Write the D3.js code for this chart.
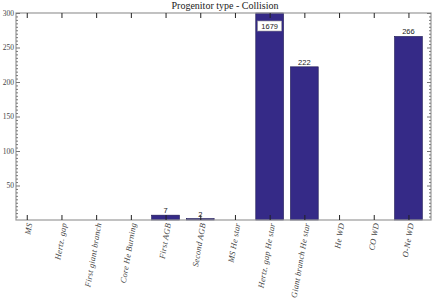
<!DOCTYPE html>
<html><head><meta charset="utf-8">
<script src="https://cdn.jsdelivr.net/npm/d3@7"></script>
<style>body{margin:0;background:#fff}svg{display:block}</style>
</head><body>
<script>
const categories = ["MS","Hertz. gap","First giant branch","Core He Burning","First AGB","Second AGB","MS He star","Hertz. gap He star","Giant branch He star","He WD","CO WD","O-Ne WD"];
const counts = [0,0,0,0,7,2,0,1679,222,0,0,266];
const yTicks = [50,100,150,200,250,300];
const title = "Progenitor type - Collision";

const W=436,H=300, L=16, R=431, T=13, B=220;
const svg=d3.select("body").append("svg").attr("width",W).attr("height",H);
const x=d3.scaleLinear().domain([-0.31,11.65]).range([L,R]);
const y=d3.scaleLinear().domain([0,300]).range([B,T]);
const bw = x(0.8)-x(0);
const serif="'Liberation Serif','DejaVu Serif',serif";
const sans="'Liberation Sans','DejaVu Sans',sans-serif";

// bars
svg.selectAll("rect.bar").data(counts.map((v,i)=>({v,i}))).enter().filter(d=>d.v>0)
 .append("rect").attr("class","bar")
 .attr("x",d=>x(d.i)-bw/2).attr("width",bw)
 .attr("y",d=>y(Math.min(d.v,300))).attr("height",d=>B-y(Math.min(d.v,300)))
 .attr("fill","#352a87").attr("stroke","#1a1450").attr("stroke-width",0.6);

// frame
svg.append("rect").attr("x",L).attr("y",T).attr("width",R-L).attr("height",B-T)
 .attr("fill","none").attr("stroke","#999").attr("stroke-width",1.2);

// axes
const minor=d3.range(5,300,5).filter(v=>v%50!==0);
const gl=svg.append("g").attr("transform",`translate(${L},0)`)
 .call(d3.axisLeft(y).tickValues(yTicks).tickSize(-4).tickPadding(2));
gl.select(".domain").remove();
gl.selectAll("text").attr("font-family",serif).attr("font-size",7.5).attr("fill","#444");
gl.selectAll("line").attr("stroke","#777");
const gl2=svg.append("g").attr("transform",`translate(${L},0)`)
 .call(d3.axisLeft(y).tickValues(minor).tickSize(-2).tickFormat(""));
gl2.select(".domain").remove(); gl2.selectAll("line").attr("stroke","#777");
const gr=svg.append("g").attr("transform",`translate(${R},0)`)
 .call(d3.axisRight(y).tickValues(yTicks).tickSize(-4).tickFormat(""));
gr.select(".domain").remove(); gr.selectAll("line").attr("stroke","#777");
const gr2=svg.append("g").attr("transform",`translate(${R},0)`)
 .call(d3.axisRight(y).tickValues(minor).tickSize(-2).tickFormat(""));
gr2.select(".domain").remove(); gr2.selectAll("line").attr("stroke","#777");

const idx=d3.range(categories.length);
const gt=svg.append("g").attr("transform",`translate(0,${T})`)
 .call(d3.axisTop(x).tickValues(idx).tickSize(-5).tickFormat(""));
gt.select(".domain").remove(); gt.selectAll("line").attr("stroke","#222");
const gb=svg.append("g").attr("transform",`translate(0,${B})`)
 .call(d3.axisBottom(x).tickValues(idx).tickSize(-5).tickFormat(i=>categories[i]));
gb.select(".domain").remove(); gb.selectAll("line").attr("stroke","#222");
gb.selectAll("text").attr("font-family",serif).attr("font-style","italic").attr("font-size",8.4)
 .attr("letter-spacing",0.2)
 .attr("fill","#444").attr("text-anchor","end")
 .attr("transform","translate(2,3) rotate(-80)").attr("x",0).attr("y",0).attr("dy","0.35em");

// value labels
counts.forEach((v,i)=>{
  if(v<=0) return;
  if(v>300){
    const g=svg.append("g");
    const cx=x(i), cy=y(300)+13;
    g.append("rect").attr("x",cx-12).attr("y",cy-5).attr("width",24).attr("height",10)
     .attr("fill","#fff").attr("stroke","#999").attr("stroke-width",0.6);
    g.append("text").attr("x",cx).attr("y",cy).attr("dy","0.35em").attr("text-anchor","middle")
     .attr("font-family",sans).attr("font-size",7.5).attr("fill","#222").text(v);
  } else {
    svg.append("text").attr("x",x(i)).attr("y",y(v)-2).attr("text-anchor","middle")
     .attr("font-family",sans).attr("font-size",7.5).attr("fill","#222").text(v);
  }
});

svg.append("text").attr("x",225).attr("y",9).attr("text-anchor","middle")
 .attr("font-family",serif).attr("font-size",10).attr("fill","#222").text(title);
</script>
</body></html>
